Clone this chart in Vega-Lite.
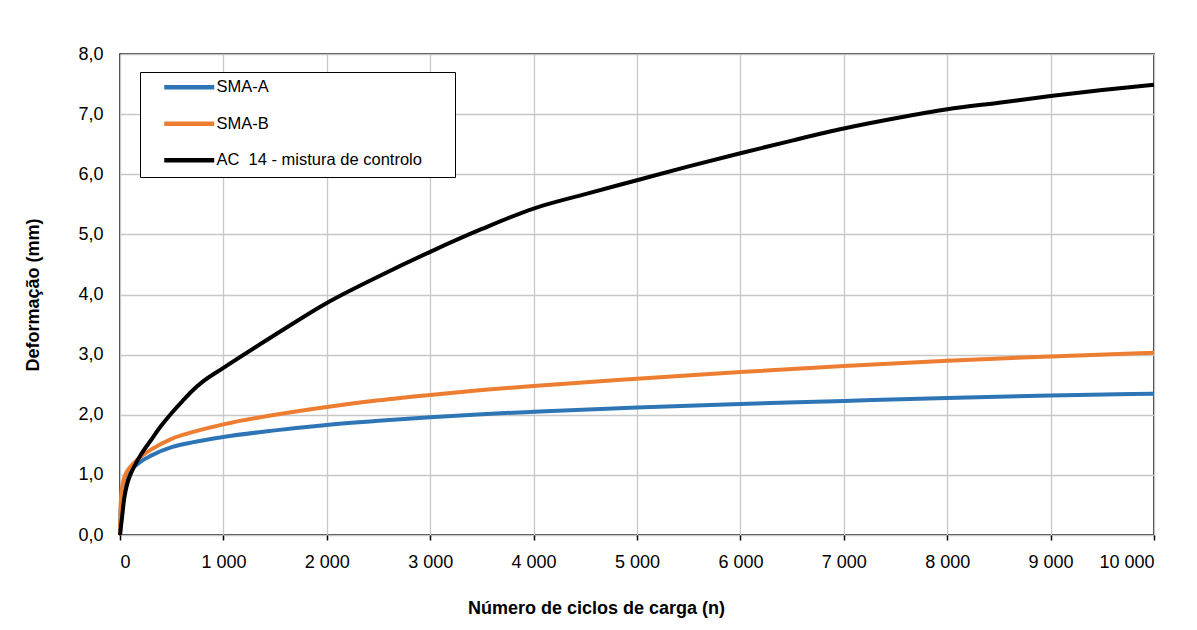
{
  "$schema": "https://vega.github.io/schema/vega-lite/v6.json",
  "autosize": "none",
  "width": 1034,
  "height": 481,
  "padding": {"left": 120, "top": 54, "right": 43, "bottom": 95},
  "background": "white",
  "config": {
    "font": "Liberation Sans",
    "view": {"stroke": "black", "strokeWidth": 1.5},
    "axis": {"gridColor": "#c8c8c8", "gridWidth": 1.3, "domain": false, "labelFont": "Liberation Sans", "titleFont": "Liberation Sans", "labelColor": "black", "titleColor": "black"},
    "legend": {"strokeColor": "black", "fillColor": "white"}
  },
  "datasets": {
    "curves": [
      {"serie": "SMA-A", "n": 0, "d": 0}, {"serie": "SMA-A", "n": 5, "d": 0.35}, {"serie": "SMA-A", "n": 15, "d": 0.6}, {"serie": "SMA-A", "n": 30, "d": 0.78}, {"serie": "SMA-A", "n": 60, "d": 0.97}, {"serie": "SMA-A", "n": 100, "d": 1.07}, {"serie": "SMA-A", "n": 200, "d": 1.22}, {"serie": "SMA-A", "n": 300, "d": 1.32}, {"serie": "SMA-A", "n": 500, "d": 1.46}, {"serie": "SMA-A", "n": 700, "d": 1.54}, {"serie": "SMA-A", "n": 1000, "d": 1.63}, {"serie": "SMA-A", "n": 1500, "d": 1.74}, {"serie": "SMA-A", "n": 2000, "d": 1.83}, {"serie": "SMA-A", "n": 2500, "d": 1.9}, {"serie": "SMA-A", "n": 3000, "d": 1.96}, {"serie": "SMA-A", "n": 3500, "d": 2.01}, {"serie": "SMA-A", "n": 4000, "d": 2.05}, {"serie": "SMA-A", "n": 5000, "d": 2.12}, {"serie": "SMA-A", "n": 6000, "d": 2.18}, {"serie": "SMA-A", "n": 7000, "d": 2.23}, {"serie": "SMA-A", "n": 8000, "d": 2.28}, {"serie": "SMA-A", "n": 9000, "d": 2.32}, {"serie": "SMA-A", "n": 10000, "d": 2.35},
      {"serie": "SMA-B", "n": 0, "d": 0}, {"serie": "SMA-B", "n": 5, "d": 0.45}, {"serie": "SMA-B", "n": 15, "d": 0.72}, {"serie": "SMA-B", "n": 30, "d": 0.88}, {"serie": "SMA-B", "n": 60, "d": 1.03}, {"serie": "SMA-B", "n": 100, "d": 1.13}, {"serie": "SMA-B", "n": 200, "d": 1.3}, {"serie": "SMA-B", "n": 300, "d": 1.42}, {"serie": "SMA-B", "n": 500, "d": 1.6}, {"serie": "SMA-B", "n": 700, "d": 1.71}, {"serie": "SMA-B", "n": 1000, "d": 1.84}, {"serie": "SMA-B", "n": 1500, "d": 2.0}, {"serie": "SMA-B", "n": 2000, "d": 2.13}, {"serie": "SMA-B", "n": 2500, "d": 2.24}, {"serie": "SMA-B", "n": 3000, "d": 2.33}, {"serie": "SMA-B", "n": 3500, "d": 2.41}, {"serie": "SMA-B", "n": 4000, "d": 2.48}, {"serie": "SMA-B", "n": 5000, "d": 2.6}, {"serie": "SMA-B", "n": 6000, "d": 2.71}, {"serie": "SMA-B", "n": 7000, "d": 2.81}, {"serie": "SMA-B", "n": 8000, "d": 2.9}, {"serie": "SMA-B", "n": 9000, "d": 2.97}, {"serie": "SMA-B", "n": 10000, "d": 3.03},
      {"serie": "AC 14 - mistura de controlo", "n": 0, "d": 0}, {"serie": "AC 14 - mistura de controlo", "n": 20, "d": 0.3}, {"serie": "AC 14 - mistura de controlo", "n": 40, "d": 0.6}, {"serie": "AC 14 - mistura de controlo", "n": 70, "d": 0.85}, {"serie": "AC 14 - mistura de controlo", "n": 100, "d": 1.0}, {"serie": "AC 14 - mistura de controlo", "n": 150, "d": 1.18}, {"serie": "AC 14 - mistura de controlo", "n": 200, "d": 1.33}, {"serie": "AC 14 - mistura de controlo", "n": 300, "d": 1.58}, {"serie": "AC 14 - mistura de controlo", "n": 400, "d": 1.82}, {"serie": "AC 14 - mistura de controlo", "n": 500, "d": 2.03}, {"serie": "AC 14 - mistura de controlo", "n": 600, "d": 2.22}, {"serie": "AC 14 - mistura de controlo", "n": 700, "d": 2.4}, {"serie": "AC 14 - mistura de controlo", "n": 800, "d": 2.55}, {"serie": "AC 14 - mistura de controlo", "n": 1000, "d": 2.78}, {"serie": "AC 14 - mistura de controlo", "n": 1500, "d": 3.33}, {"serie": "AC 14 - mistura de controlo", "n": 2000, "d": 3.86}, {"serie": "AC 14 - mistura de controlo", "n": 2500, "d": 4.3}, {"serie": "AC 14 - mistura de controlo", "n": 3000, "d": 4.71}, {"serie": "AC 14 - mistura de controlo", "n": 3500, "d": 5.09}, {"serie": "AC 14 - mistura de controlo", "n": 4000, "d": 5.43}, {"serie": "AC 14 - mistura de controlo", "n": 4500, "d": 5.67}, {"serie": "AC 14 - mistura de controlo", "n": 5000, "d": 5.9}, {"serie": "AC 14 - mistura de controlo", "n": 5500, "d": 6.13}, {"serie": "AC 14 - mistura de controlo", "n": 6000, "d": 6.35}, {"serie": "AC 14 - mistura de controlo", "n": 6500, "d": 6.56}, {"serie": "AC 14 - mistura de controlo", "n": 7000, "d": 6.76}, {"serie": "AC 14 - mistura de controlo", "n": 7500, "d": 6.93}, {"serie": "AC 14 - mistura de controlo", "n": 8000, "d": 7.08}, {"serie": "AC 14 - mistura de controlo", "n": 8500, "d": 7.19}, {"serie": "AC 14 - mistura de controlo", "n": 9000, "d": 7.3}, {"serie": "AC 14 - mistura de controlo", "n": 9500, "d": 7.4}, {"serie": "AC 14 - mistura de controlo", "n": 10000, "d": 7.49}
    ]
  },
  "data": {"name": "curves"},
  "encoding": {
    "x": {
      "field": "n", "type": "quantitative",
      "scale": {"domain": [0, 10000], "nice": false, "zero": true},
      "axis": {
        "values": [0, 1000, 2000, 3000, 4000, 5000, 6000, 7000, 8000, 9000, 10000],
        "labelExpr": "replace(format(datum.value, ','), ',', ' ')",
        "labelFontSize": 18, "labelPadding": 13,
        "ticks": true, "tickColor": "black", "tickSize": 5, "tickWidth": 1.5,
        "title": "Número de ciclos de carga (n)", "titleFontSize": 18, "titleFontWeight": "bold",
        "titlePadding": 28, "titleX": 476
      }
    },
    "y": {
      "field": "d", "type": "quantitative",
      "scale": {"domain": [0, 8], "nice": false},
      "axis": {
        "values": [0, 1, 2, 3, 4, 5, 6, 7, 8],
        "labelExpr": "replace(format(datum.value, '.1f'), '.', ',')",
        "labelFontSize": 18, "labelPadding": 17, "ticks": false,
        "title": "Deformação (mm)", "titleFontSize": 18, "titleFontWeight": "bold",
        "titlePadding": 35
      }
    },
    "color": {
      "field": "serie", "type": "nominal",
      "scale": {"domain": ["SMA-A", "SMA-B", "AC 14 - mistura de controlo"], "range": ["#2E75B6", "#ED7D31", "#000000"]},
      "legend": {
        "title": null, "orient": "none", "legendX": 20, "legendY": 18,
        "padding": 7, "symbolOffset": 34,
        "symbolType": "M-5,0H5", "symbolSize": 100, "symbolStrokeWidth": 4.5,
        "labelFontSize": 16.5, "labelOffset": 19, "rowPadding": 17.5, "labelLimit": 400,
        "labelExpr": "datum.label == 'AC 14 - mistura de controlo' ? 'AC\u00a0 14 - mistura de controlo\u00a0\u00a0\u00a0\u2800' : datum.label"
      }
    }
  },
  "layer": [
    {"transform": [{"filter": "datum.serie == 'SMA-A'"}], "mark": {"type": "line", "strokeWidth": 4, "interpolate": "monotone"}},
    {"transform": [{"filter": "datum.serie == 'SMA-B'"}], "mark": {"type": "line", "strokeWidth": 4, "interpolate": "monotone"}},
    {"transform": [{"filter": "datum.serie == 'AC 14 - mistura de controlo'"}], "mark": {"type": "line", "strokeWidth": 4, "interpolate": "monotone"}}
  ]
}
